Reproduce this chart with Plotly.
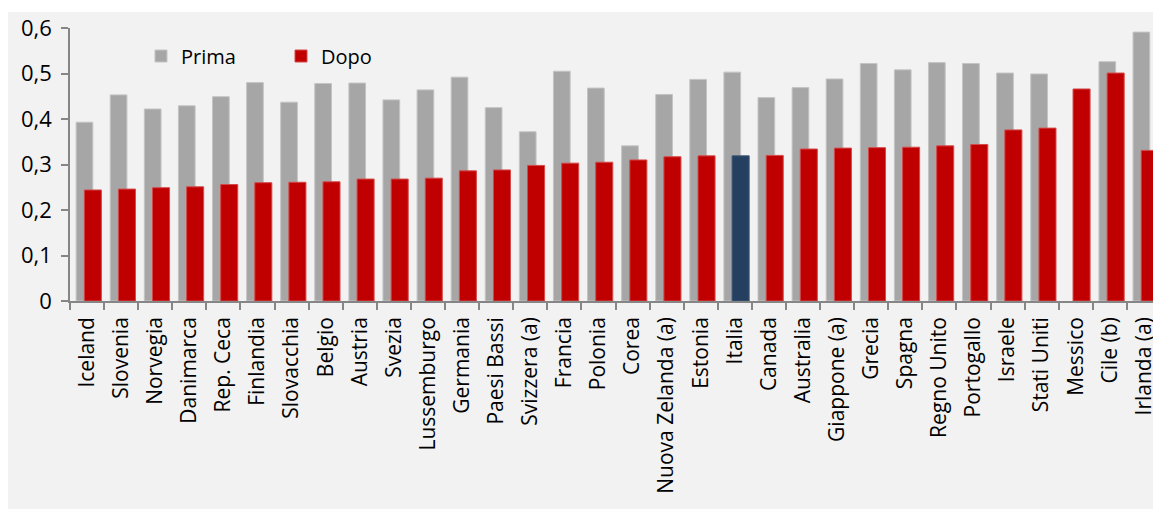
import plotly.graph_objects as go

countries = ["Iceland", "Slovenia", "Norvegia", "Danimarca", "Rep. Ceca", "Finlandia",
             "Slovacchia", "Belgio", "Austria", "Svezia", "Lussemburgo", "Germania",
             "Paesi Bassi", "Svizzera (a)", "Francia", "Polonia", "Corea",
             "Nuova Zelanda (a)", "Estonia", "Italia", "Canada", "Australia",
             "Giappone (a)", "Grecia", "Spagna", "Regno Unito", "Portogallo",
             "Israele", "Stati Uniti", "Messico", "Cile (b)", "Irlanda (a)"]

prima = [0.393, 0.453, 0.422, 0.429, 0.449, 0.480, 0.437, 0.478, 0.479, 0.442,
         0.464, 0.492, 0.425, 0.372, 0.505, 0.468, 0.341, 0.454, 0.487, 0.503,
         0.447, 0.469, 0.488, 0.522, 0.508, 0.524, 0.522, 0.501, 0.499, None,
         0.526, 0.591]

dopo = [0.244, 0.246, 0.249, 0.251, 0.256, 0.260, 0.261, 0.262, 0.268, 0.268,
        0.270, 0.286, 0.288, 0.298, 0.303, 0.305, 0.310, 0.317, 0.319, 0.319,
        0.320, 0.334, 0.336, 0.337, 0.338, 0.341, 0.344, 0.376, 0.380, 0.466,
        0.501, 0.331]

ytick_vals = [0, 0.1, 0.2, 0.3, 0.4, 0.5, 0.6]
ytick_text = ["0", "0,1", "0,2", "0,3", "0,4", "0,5", "0,6"]

GRAY = "#a6a6a6"
RED = "#c00000"
BLUE = "#243f60"
BG = "#f2f2f2"
AXIS = "#868686"
FONT = "Open Sans"

dopo_colors = [BLUE if c == "Italia" else RED for c in countries]
dopo_lines = ["#3d5878" if c == "Italia" else "#d44a4a" for c in countries]

fig = go.Figure()
fig.add_trace(go.Bar(
    x=countries, y=prima, name="Prima",
    marker=dict(color=GRAY, line=dict(color="#c4c4c4", width=1)),
    offset=-0.32, width=0.49,
))
fig.add_trace(go.Bar(
    x=countries, y=dopo, name="Dopo",
    marker=dict(color=dopo_colors, line=dict(color=dopo_lines, width=1)),
    offset=-0.08, width=0.5,
))

# page has an 8px body margin; figure coordinates = page coordinates - 8
W, H = 1153, 501
L, R, T, B = 62, 0, 20, 208
pw = W - L - R
ph = H - T - B

def px_x(p):
    return (p - L) / pw

def px_y(p):
    return (H - B - p) / ph

fig.add_shape(type="rect", xref="paper", yref="paper",
              x0=px_x(0), x1=px_x(W), y0=px_y(H), y1=px_y(4),
              fillcolor=BG, line=dict(width=0), layer="below")

fig.update_layout(
    width=W, height=H,
    margin=dict(l=L, r=R, t=T, b=B, pad=0, autoexpand=False),
    paper_bgcolor="white",
    plot_bgcolor=BG,
    barmode="overlay",
    font=dict(family=FONT, color="black", size=20),
    showlegend=True,
    legend=dict(
        orientation="h", x=px_x(133), y=px_y(48), xanchor="left", yanchor="middle",
        bgcolor="rgba(0,0,0,0)", font=dict(family=FONT, size=20, color="black"),
        entrywidth=95, entrywidthmode="pixels", traceorder="normal",
    ),
    xaxis=dict(
        type="category", range=[-0.5, 31.5], automargin=False,
        showline=True, linecolor=AXIS, linewidth=1.5,
        ticks="outside", tickson="boundaries", ticklen=7, tickcolor=AXIS, tickwidth=1.5,
        tickangle=-90, tickfont=dict(family=FONT, size=21, color="black"),
        ticklabelstandoff=6,
        showgrid=False, zeroline=False, fixedrange=True,
    ),
    yaxis=dict(
        range=[0, 0.6], tickvals=ytick_vals, ticktext=ytick_text, automargin=False,
        showline=True, linecolor=AXIS, linewidth=1.5,
        ticks="outside", ticklen=7, tickcolor=AXIS, tickwidth=1.5,
        tickfont=dict(family=FONT, size=22, color="black"),
        ticklabelstandoff=5,
        showgrid=False, zeroline=False, fixedrange=True,
    ),
)

fig.write_html("out.html")
